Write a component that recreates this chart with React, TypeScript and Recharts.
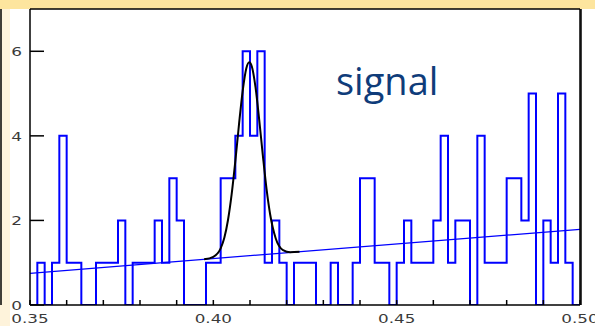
import React from 'react';
import { ComposedChart, Line, XAxis, YAxis } from 'recharts';

// Histogram: bin counts, bins of width 0.002 starting at 0.35
const BIN_LO = 0.35;
const BIN_WIDTH = 0.002;
const COUNTS = [
  0, 1, 0, 1, 4, 1, 1, 0, 0, 1,
  1, 1, 2, 0, 1, 1, 1, 2, 1, 3,
  2, 0, 0, 0, 1, 1, 3, 3, 4, 6,
  4, 6, 1, 2, 1, 0, 1, 1, 1, 0,
  0, 1, 0, 0, 1, 3, 3, 1, 1, 0,
  1, 2, 1, 1, 1, 2, 4, 1, 2, 2,
  0, 4, 1, 1, 1, 3, 3, 2, 5, 0,
  2, 1, 5, 1, 0,
];

// Linear background fit (end points)
const BG_X = [0.35, 0.5];
const BG_Y = [0.75, 1.79];

// Signal (gaussian + background) curve
const PEAK_X = [0.3975, 0.4, 0.402, 0.403, 0.404, 0.405, 0.406, 0.407, 0.408, 0.409, 0.4098, 0.4105, 0.4115, 0.4125, 0.4135, 0.4145, 0.4155, 0.417, 0.419, 0.421, 0.4235];
const PEAK_Y = [1.08, 1.14, 1.34, 1.59, 2.01, 2.62, 3.4, 4.27, 5.06, 5.6, 5.74, 5.64, 5.15, 4.39, 3.54, 2.75, 2.14, 1.58, 1.3, 1.25, 1.26];

const X_TICKS = [0.35, 0.36, 0.37, 0.38, 0.39, 0.4, 0.41, 0.42, 0.43, 0.44, 0.45, 0.46, 0.47, 0.48, 0.49, 0.5];
const X_LABEL_VALUES = [0.35, 0.4, 0.45, 0.5];
const X_LABELS = ['0.35', '0.40', '0.45', '0.50'];
const Y_MAJOR = [0, 2, 4, 6];
const Y_MINOR = [0, 0.5, 1, 1.5, 2, 2.5, 3, 3.5, 4, 4.5, 5, 5.5, 6, 6.5, 7];
const Y_LABELS = ['0', '2', '4', '6'];

const histData = [
  ...COUNTS.map((c, i) => ({ x: BIN_LO + i * BIN_WIDTH, y: c })),
  { x: BIN_LO + COUNTS.length * BIN_WIDTH, y: COUNTS[COUNTS.length - 1] },
];
const bgData = BG_X.map((x, i) => ({ x, y: BG_Y[i] }));
const peakData = PEAK_X.map((x, i) => ({ x, y: PEAK_Y[i] }));

const FONT = 'DejaVu Sans';
const LABEL_COLOR = '#3a3a3a';

const XTick = (props: any) => {
  const { x, y, payload } = props;
  const idx = X_LABEL_VALUES.findIndex((v) => Math.abs(v - payload.value) < 1e-9);
  if (idx < 0) return null;
  return (
    <text
      transform={`translate(${x},${y}) scale(1.4,1)`}
      textAnchor="middle"
      dy="0.71em"
      fontFamily={FONT}
      fontSize={12}
      fill={LABEL_COLOR}
    >
      {X_LABELS[idx]}
    </text>
  );
};

const YTick = (props: any) => {
  const { x, y, payload } = props;
  const idx = Y_MAJOR.findIndex((v) => Math.abs(v - payload.value) < 1e-9);
  if (idx < 0) return null;
  return (
    <text
      transform={`translate(${x},${y}) scale(1.3,1)`}
      textAnchor="end"
      dy="0.36em"
      fontFamily={FONT}
      fontSize={13}
      fill={LABEL_COLOR}
    >
      {Y_LABELS[idx]}
    </text>
  );
};

const axisLine = { stroke: '#000', strokeWidth: 1.5 };
const tickLine = { stroke: '#000', strokeWidth: 1.5 };

export default function App() {
  return (
    <div style={{ position: 'absolute', left: 0, top: 0, width: 595, height: 326, background: '#FEF3DB', overflow: 'hidden' }}>
      <div style={{ position: 'absolute', left: 0, top: 0, width: 595, height: 9, background: '#FDE59E' }} />
      <div style={{ position: 'absolute', left: 10, top: 9, width: 585, height: 317, background: '#FFFFFF' }} />
      <div style={{ position: 'absolute', left: 0, top: 0 }}>
        <ComposedChart width={595} height={326} margin={{ top: 8, right: 13, bottom: 0, left: 0 }}>
          <XAxis
            xAxisId="b"
            dataKey="x"
            type="number"
            domain={[0.35, 0.5]}
            allowDataOverflow
            ticks={X_TICKS}
            interval={0}
            tickSize={-5}
            tickMargin={14}
            height={21}
            axisLine={axisLine}
            tickLine={tickLine}
            tick={<XTick />}
          />
          <XAxis
            xAxisId="t"
            orientation="top"
            dataKey="x"
            type="number"
            domain={[0.35, 0.5]}
            allowDataOverflow
            ticks={X_TICKS}
            interval={0}
            tickSize={-5}
            height={1}
            axisLine={axisLine}
            tickLine={tickLine}
            tick={false}
          />
          <YAxis
            yAxisId="lm"
            type="number"
            domain={[0, 7]}
            allowDataOverflow
            ticks={Y_MINOR}
            interval={0}
            tickSize={-7}
            width={1}
            axisLine={axisLine}
            tickLine={tickLine}
            tick={false}
          />
          <YAxis
            yAxisId="l"
            type="number"
            domain={[0, 7]}
            allowDataOverflow
            ticks={Y_MAJOR}
            interval={0}
            tickSize={-14}
            tickMargin={22}
            width={29}
            axisLine={axisLine}
            tickLine={tickLine}
            tick={<YTick />}
          />
          <YAxis
            yAxisId="rm"
            orientation="right"
            type="number"
            domain={[0, 7]}
            allowDataOverflow
            ticks={Y_MINOR}
            interval={0}
            tickSize={-7}
            width={1}
            axisLine={axisLine}
            tickLine={tickLine}
            tick={false}
          />
          <YAxis
            yAxisId="r"
            orientation="right"
            type="number"
            domain={[0, 7]}
            allowDataOverflow
            ticks={Y_MAJOR}
            interval={0}
            tickSize={-14}
            width={1}
            axisLine={axisLine}
            tickLine={tickLine}
            tick={false}
          />
          <Line
            xAxisId="b"
            yAxisId="l"
            data={histData}
            dataKey="y"
            type="stepAfter"
            stroke="#0000FF"
            strokeWidth={2}
            dot={false}
            activeDot={false}
            isAnimationActive={false}
          />
          <Line
            xAxisId="b"
            yAxisId="l"
            data={bgData}
            dataKey="y"
            type="linear"
            stroke="#0000FF"
            strokeWidth={1.2}
            dot={false}
            activeDot={false}
            isAnimationActive={false}
          />
          <Line
            xAxisId="b"
            yAxisId="l"
            data={peakData}
            dataKey="y"
            type="monotone"
            stroke="#000000"
            strokeWidth={2}
            dot={false}
            activeDot={false}
            isAnimationActive={false}
          />
        </ComposedChart>
      </div>
      <svg width={595} height={326} style={{ position: 'absolute', left: 0, top: 0, pointerEvents: 'none' }}>
        <text x={336} y={95} fontFamily="Open Sans" fontSize={38} fill="#0F3C7A">
          signal
        </text>
      </svg>
    </div>
  );
}
